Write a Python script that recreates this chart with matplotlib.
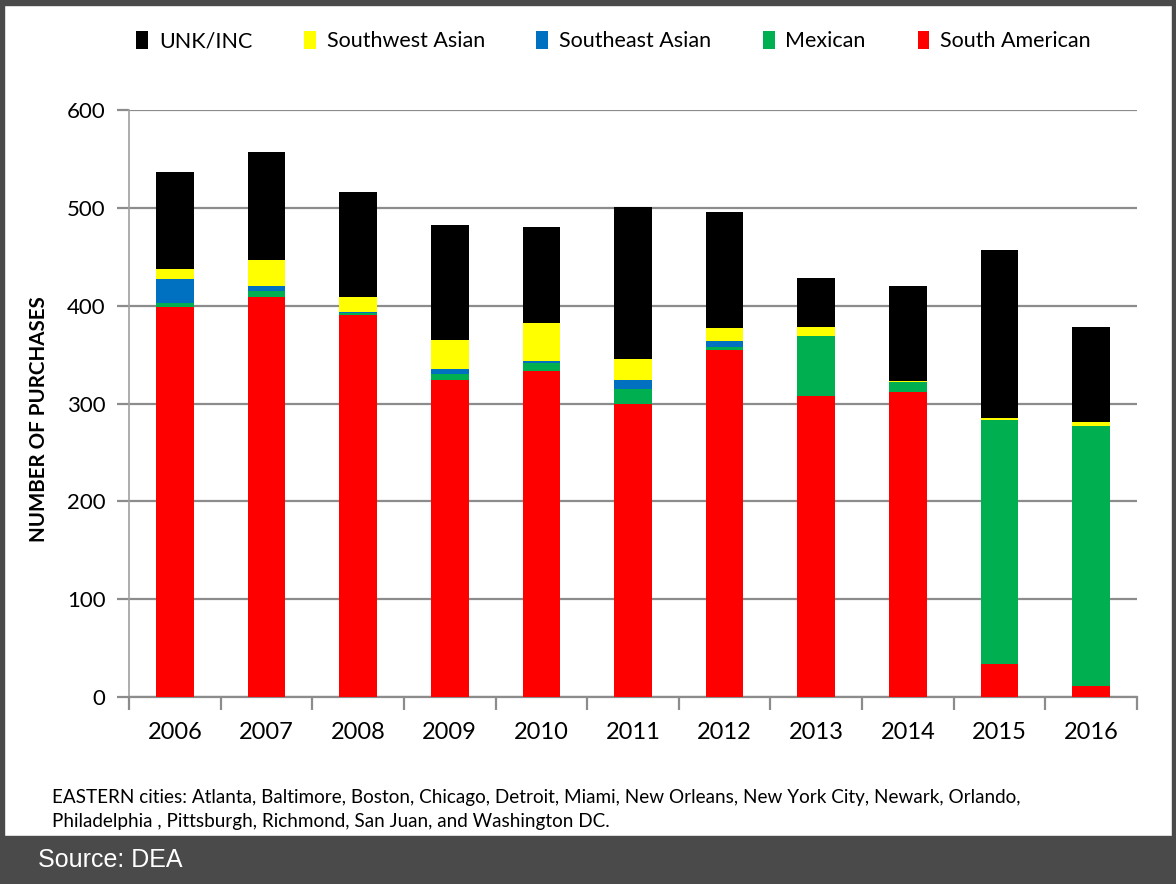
import matplotlib
matplotlib.use("Agg")
import matplotlib.pyplot as plt
import numpy as np
from matplotlib.patches import Rectangle

years = ["2006", "2007", "2008", "2009", "2010", "2011", "2012", "2013", "2014", "2015", "2016"]
south_american = [399, 409, 390, 324, 333, 300, 355, 308, 312, 34, 11]
mexican = [4, 6, 2, 6, 8, 15, 3, 61, 10, 249, 266]
southeast_asian = [24, 5, 2, 5, 2, 9, 6, 0, 0, 0, 0]
southwest_asian = [10, 27, 15, 30, 39, 21, 13, 9, 1, 2, 4]
unk_inc = [100, 110, 107, 117, 98, 156, 119, 50, 97, 172, 97]

series = [
    ("South American", south_american, "#ff0000"),
    ("Mexican", mexican, "#00b050"),
    ("Southeast Asian", southeast_asian, "#0070c0"),
    ("Southwest Asian", southwest_asian, "#ffff00"),
    ("UNK/INC", unk_inc, "#000000"),
]

plt.rcParams['font.family'] = ['Lato', 'DejaVu Sans']

fig = plt.figure(figsize=(11.76, 8.84), dpi=100)
fig.patch.set_facecolor("white")
ax = fig.add_axes([129/1176, 1-697/884, (1137-129)/1176, (697-110)/884])

x = np.arange(len(years))
bottom = np.zeros(len(years))
handles = {}
for name, vals, col in series:
    v = np.array(vals, dtype=float)
    b = ax.bar(x, v, bottom=bottom, width=0.41, color=col, label=name, zorder=3)
    handles[name] = b
    bottom += v

ax.set_xlim(-0.5, len(years) - 0.5)
ax.set_ylim(0, 600)
ax.set_yticks(range(0, 601, 100))
ax.yaxis.grid(True, color="#8c8c8c", linewidth=1.6, zorder=0)
ax.set_axisbelow(True)
for s in ["top", "right"]:
    ax.spines[s].set_visible(False)
ax.spines["left"].set_color("#a0a0a0")
ax.spines["left"].set_linewidth(1.2)
ax.spines["bottom"].set_color("#8c8c8c")
ax.spines["bottom"].set_linewidth(1.6)
ax.tick_params(axis="y", length=9, width=1.6, color="#8c8c8c", labelsize=16, pad=8)
ax.set_xticks(x)
ax.set_xticklabels(years)
ax.tick_params(axis="x", length=0, labelsize=17, pad=18)
ax.set_xticks(np.arange(-0.5, len(years)), minor=True)
ax.tick_params(axis="x", which="minor", length=9, width=1.6, color="#8c8c8c")
ax.set_ylabel("NUMBER OF PURCHASES", fontsize=14.8, fontweight="bold")
ax.yaxis.set_label_coords(-80/1008, (697-419)/587)

order = ["UNK/INC", "Southwest Asian", "Southeast Asian", "Mexican", "South American"]
fig.legend([handles[n] for n in order], order, loc="center", bbox_to_anchor=(0.5217, 1-41/884),
           ncol=5, frameon=False, fontsize=15.5, handlelength=0.55, handleheight=0.9,
           handletextpad=0.5, columnspacing=2.4)

fig.text(52/1176, 1-797/884, "EASTERN cities: Atlanta, Baltimore, Boston, Chicago, Detroit, Miami, New Orleans, New York City, Newark, Orlando,",
         fontsize=13.6, va="center", ha="left")
fig.text(52/1176, 1-821/884, "Philadelphia , Pittsburgh, Richmond, San Juan, and Washington DC.",
         fontsize=13.6, va="center", ha="left")

# frame and bands
fig.patches.append(Rectangle((0, 0), 1, 48/884, transform=fig.transFigure, color="#4a4a4a", zorder=-1))
fig.patches.append(Rectangle((0, 1-5/884), 1, 5/884, transform=fig.transFigure, color="#4a4a4a", zorder=-1))
fig.patches.append(Rectangle((0, 0), 4/1176, 1, transform=fig.transFigure, color="#4a4a4a", zorder=-1))
fig.patches.append(Rectangle((1-4/1176, 0), 4/1176, 1, transform=fig.transFigure, color="#4a4a4a", zorder=-1))
fig.text(38/1176, 1-860/884, "Source: DEA", fontsize=18, color="white", va="center", ha="left",
         family=["Liberation Sans", "DejaVu Sans"])

fig.savefig("out.png", dpi=100)
